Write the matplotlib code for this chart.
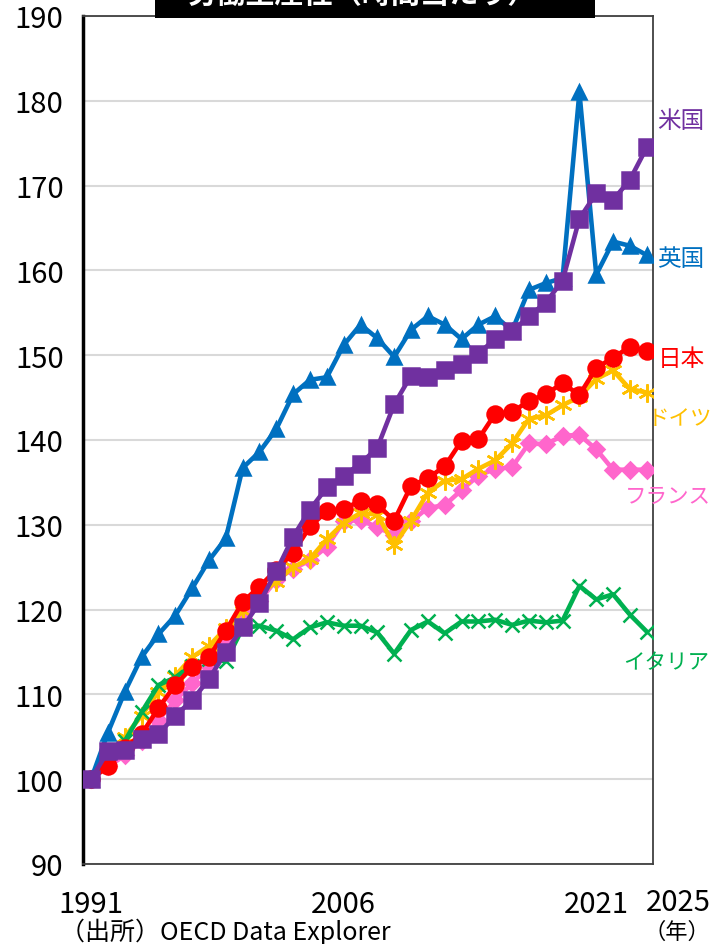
#!/usr/bin/python3

# Import
import matplotlib
matplotlib.use("Agg")
import matplotlib.pyplot as plt
from matplotlib.patches import Rectangle
from matplotlib.markers import MarkerStyle

plt.rcParams['font.family'] = ['Noto Sans CJK JP', 'DejaVu Sans']

# Data (1991 = 100)
years = list(range(1991, 2025))

usa = [100, 103.3, 103.5, 104.7, 105.3, 107.5, 109.3, 111.8, 115.0, 117.9,
       120.8, 124.5, 128.6, 131.8, 134.4, 135.8, 137.2, 139.1, 144.2, 147.6,
       147.4, 148.2, 149.0, 150.2, 151.9, 152.8, 154.6, 156.2, 158.8, 166.1,
       169.1, 168.3, 170.7, 174.5]
uk = [100, 105.5, 110.3, 114.4, 117.1, 119.3, 122.5, 125.8, 128.4, 136.7,
      138.6, 141.3, 145.4, 147.1, 147.4, 151.2, 153.6, 152.0, 149.8, 153.0,
      154.6, 153.6, 151.9, 153.6, 154.6, 152.9, 157.7, 158.5, 159.1, 181.0,
      159.5, 163.4, 162.9, 161.8]
japan = [100, 101.5, 103.7, 105.3, 108.4, 111.1, 113.2, 114.4, 117.5, 120.9,
         122.7, 124.7, 126.7, 129.8, 131.6, 131.9, 132.8, 132.4, 130.5, 134.6,
         135.5, 136.9, 139.9, 140.1, 143.1, 143.3, 144.6, 145.4, 146.7, 145.3,
         148.5, 149.7, 151.0, 150.5]
germany = [100, 102.3, 105.0, 107.5, 110.3, 112.2, 114.4, 115.7, 117.8, 119.8,
           121.8, 123.3, 125.0, 126.0, 128.3, 130.2, 131.4, 131.2, 127.6, 130.5,
           133.8, 135.2, 135.4, 136.6, 137.6, 139.6, 142.5, 142.9, 144.1, 145.1,
           147.2, 148.2, 146.0, 145.6]
france = [100, 101.5, 102.8, 104.5, 107.0, 109.3, 111.3, 113.3, 116.3, 119.0,
          121.0, 123.5, 124.8, 125.8, 127.4, 130.4, 130.6, 129.7, 128.8, 130.4,
          132.0, 132.3, 134.1, 135.8, 136.6, 136.8, 139.6, 139.5, 140.5, 140.6,
          138.9, 136.5, 136.5, 136.5]
italy = [100, 102.0, 104.5, 107.9, 111.1, 112.0, 113.4, 114.2, 113.9, 117.8,
         118.1, 117.5, 116.5, 117.9, 118.5, 118.1, 118.1, 117.3, 114.8, 117.6,
         118.6, 117.2, 118.6, 118.6, 118.8, 118.2, 118.7, 118.5, 118.7, 122.8,
         121.2, 121.8, 119.4, 117.4]

x_ticks = [1991, 2006, 2021]
y_ticks = list(range(90, 191, 10))

title = "労働生産性（時間当たり）"
source = "（出所）OECD Data Explorer"


def plot_productivity(outfile: str) -> None:
    """
    Plot labour productivity per hour for six countries

    :param outfile: Output file name
    """
    fig = plt.figure(figsize=(7.13, 9.45), dpi=100)
    ax = fig.add_axes([83 / 713, 80 / 945, 570 / 713, 848 / 945])

    asterisk = MarkerStyle((6, 2, 0))

    # (values, colour, marker, marker size, label, label size, label pixel position)
    series = [
        (france, "#FF66CC", "D", 8.5, "フランス", 15.5, (668, 497)),
        (germany, "#FFC000", asterisk, 13, "ドイツ", 15.5, (680, 419)),
        (italy, "#00B050", "x", 10, "イタリア", 15.5, (666, 663)),
        (japan, "#FF0000", "o", 11.5, "日本", 17, (681, 359)),
        (uk, "#0070C0", "^", 9.5, "英国", 17, (681, 259)),
        (usa, "#7030A0", "s", 11, "米国", 17, (681, 121)),
    ]

    for z, (vals, col, mk, ms, name, fs, pos) in enumerate(series):
        ax.plot(years, vals, color=col, lw=3.3, marker=mk, markersize=ms,
                markeredgewidth=1.8, zorder=3 + z)
        fig.text(pos[0] / 713, 1 - pos[1] / 945, name, color=col, fontsize=fs,
                 ha="center", va="center")

    ax.set_xlim(1990.52, 2024.37)
    ax.set_ylim(90, 190)
    ax.set_yticks(y_ticks)
    ax.set_yticklabels([str(v) for v in y_ticks])
    ax.set_xticks(x_ticks)
    ax.set_xticklabels([str(v) for v in x_ticks])
    ax.tick_params(axis="y", length=0, pad=14, labelsize=21)
    ax.tick_params(axis="x", length=0, pad=18, labelsize=21)
    ax.grid(axis="y", color="#D9D9D9", lw=1.5)
    ax.set_axisbelow(True)

    for s in ["top", "right", "bottom"]:
        ax.spines[s].set_color("#404040")
        ax.spines[s].set_linewidth(1.3)
    ax.spines["left"].set_color("black")
    ax.spines["left"].set_linewidth(2.5)

    # extra labels
    fig.text(678 / 713, 1 - 903 / 945, "2025", fontsize=21, ha="center", va="center")
    fig.text(677 / 713, 1 - 932 / 945, "（年）", fontsize=16, ha="center", va="center")
    fig.text(60 / 713, 1 - 932 / 945, source, fontsize=18, ha="left", va="center")

    # title box (cut at the top)
    fig.patches.append(Rectangle((155 / 713, 1 - 19 / 945), 440 / 713, 19 / 945,
                                 transform=fig.transFigure, facecolor="black",
                                 edgecolor="none", zorder=10))
    fig.text(362 / 713, 1 + 6 / 945, title, color="white", fontsize=21,
             fontweight="bold", ha="center", va="center", zorder=11)

    fig.savefig(outfile, dpi=100)


if __name__ == "__main__":
    plot_productivity("out.png")
